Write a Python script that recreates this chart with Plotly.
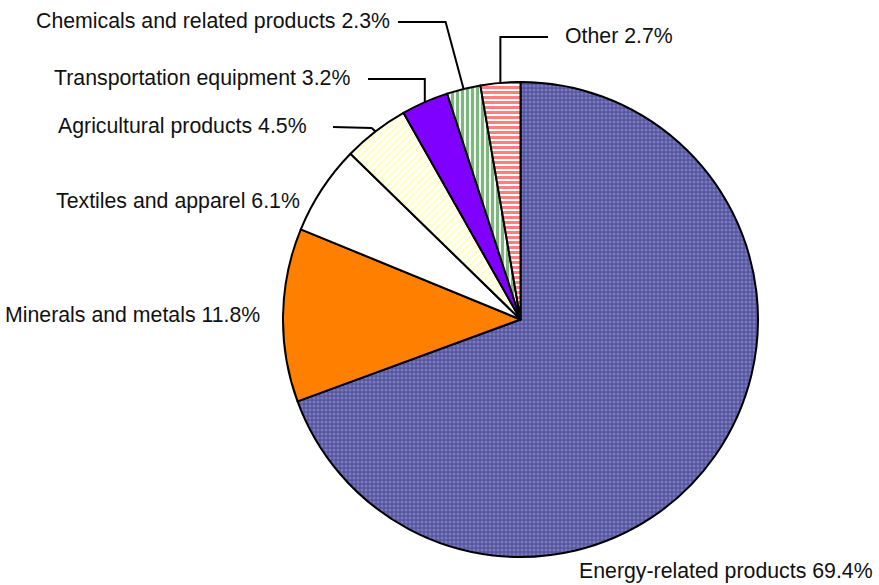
import math
import plotly.graph_objects as go

W, H = 879, 585

# ---- data ----
categories = [
    "Energy-related products",
    "Minerals and metals",
    "Textiles and apparel",
    "Agricultural products",
    "Transportation equipment",
    "Chemicals and related products",
    "Other",
]
shares = [69.4, 11.8, 6.1, 4.5, 3.2, 2.3, 2.7]

# ---- styles ----
bg_colors = ["#5656a0", "#ff8000", "#ffffff", "#ffffff", "#8000ff", "#ffffff", "#ffffff"]
pat_shapes = [".", "", "", "/", "", "|", "-"]
pat_fg = ["#9c9cd8", "#ff8000", "#ffffff", "#ffff80", "#8000ff", "#006e00", "#ff0000"]
pat_size = [4, 8, 8, 5, 8, 5, 5]
pat_solid = [0.45, 0.3, 0.3, 0.45, 0.3, 0.65, 0.6]

# pie geometry (pixels)
CX, CY, R = 520.5, 319.5, 237.5


def px(x):
    return x / W


def py(y):
    return 1 - y / H


fig = go.Figure(
    go.Pie(
        labels=categories,
        values=shares,
        sort=False,
        direction="clockwise",
        rotation=0,
        textinfo="none",
        hoverinfo="label+percent",
        showlegend=False,
        marker=dict(
            colors=bg_colors,
            line=dict(color="#000000", width=2),
            pattern=dict(
                shape=pat_shapes,
                fgcolor=pat_fg,
                bgcolor=bg_colors,
                size=pat_size,
                solidity=pat_solid,
                fillmode="overlay",
            ),
        ),
        domain=dict(x=[px(CX - R), px(CX + R)], y=[py(CY + R), py(CY - R)]),
    )
)

# label layout: (x pixel, y pixel, anchor, leader type)
label_pos = [
    (577, 571, "left", None),
    (262, 315, "right", None),
    (302, 201, "right", None),
    (309, 126, "right", "direct"),
    (352, 78, "right", "vertical"),
    (392, 21, "right", "diag"),
    (563, 36, "left", "vertical"),
]

total = sum(shares)
cum = 0.0
annotations = []
shapes = []
for cat, val, (lx, ly, anc, leader) in zip(categories, shares, label_pos):
    mid = (cum + val / 2) / total * 360.0
    cum += val
    theta = math.radians(mid)
    ex = CX + R * math.sin(theta)
    ey = CY - R * math.cos(theta)
    annotations.append(
        dict(
            x=px(lx), y=py(ly), xref="paper", yref="paper",
            text=f"{cat} {val:.1f}%", showarrow=False,
            xanchor=anc, yanchor="middle",
            font=dict(family="Liberation Sans, Arial, sans-serif", size=21.3, color="#111111"),
        )
    )
    if leader is None:
        continue
    ly2 = ly + 1
    if anc == "right":
        sx = lx + 6 + (10 if leader == "vertical" else 18 if leader == "direct" else 0)
    else:
        sx = lx - 15
    if leader == "direct":
        pts = [(sx, ly2), (ex - 4, ly2 + 1), (ex, ey)]
    elif leader == "vertical":
        pts = [(sx, ly2), (ex, ly2), (ex, ey)]
    else:  # diag
        pts = [(sx, ly2), (ex - 18, ly2), (ex, ey)]
    path = "M " + " L ".join(f"{px(a):.5f},{py(b):.5f}" for a, b in pts)
    shapes.append(
        dict(type="path", xref="paper", yref="paper", path=path,
             line=dict(color="#000000", width=2))
    )

fig.update_layout(
    width=W, height=H,
    margin=dict(l=0, r=0, t=0, b=0),
    paper_bgcolor="#ffffff",
    plot_bgcolor="#ffffff",
    annotations=annotations,
    shapes=shapes,
)

fig.write_html(
    "out.html",
    config={"displayModeBar": False},
    post_script="document.body.style.margin='0';document.body.style.overflow='hidden';",
)
